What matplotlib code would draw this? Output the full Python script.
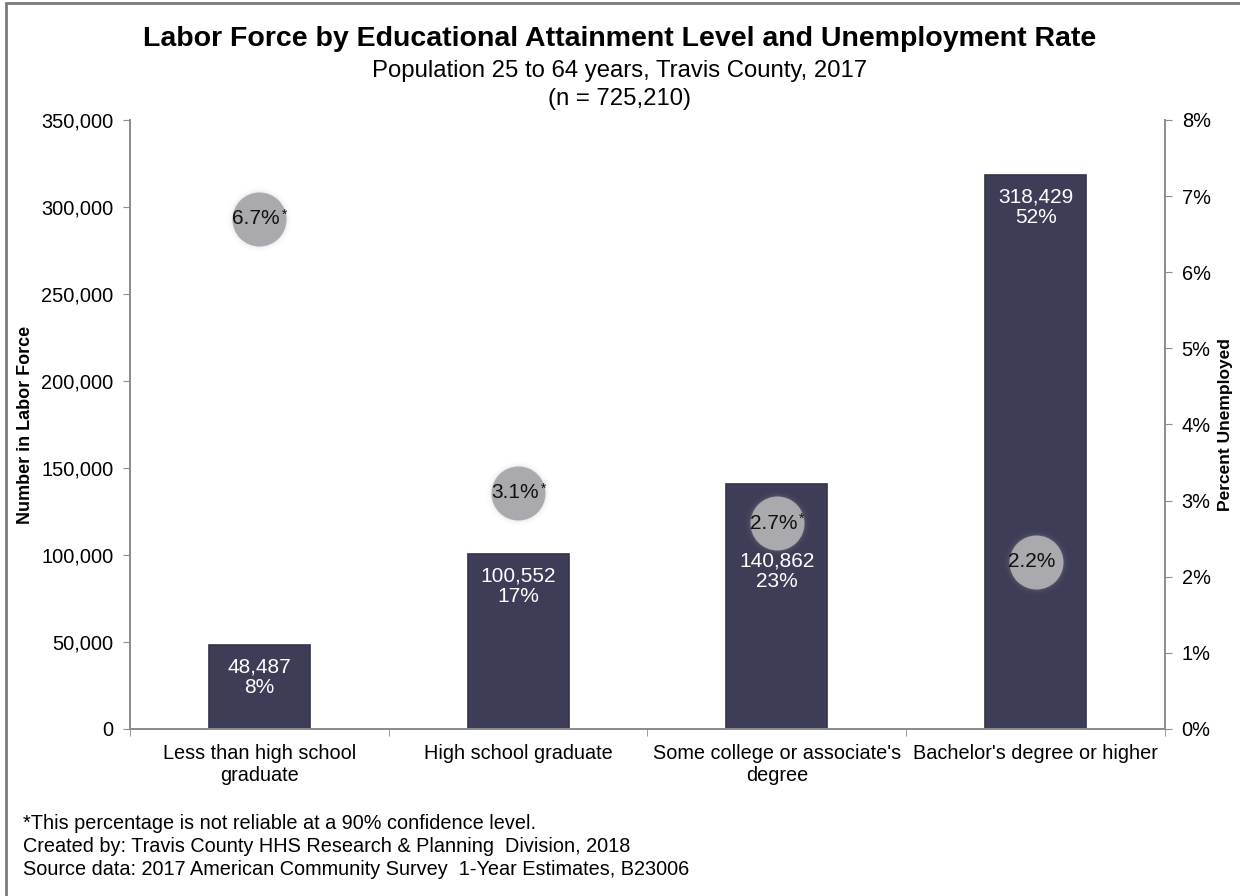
import matplotlib
matplotlib.use('Agg')
import matplotlib.pyplot as plt
from matplotlib.patches import Rectangle
from matplotlib.ticker import FuncFormatter, FixedLocator

plt.rcParams['font.family'] = ['Liberation Sans', 'DejaVu Sans']

categories = ['Less than high school\ngraduate', 'High school graduate',
              "Some college or associate's\ndegree", "Bachelor's degree or higher"]
labor_force = [48487, 100552, 140862, 318429]
share_labels = ['8%', '17%', '23%', '52%']
unemployment = [6.7, 3.1, 2.7, 2.2]
unreliable = [True, True, True, False]

bar_color = '#3e3d57'
bubble_color = '#aaaaae'
axis_grey = '#8c8c8c'
bubble_radius_px = 27

fig = plt.figure(figsize=(12.4, 8.96), dpi=100)
ax = fig.add_axes([0.1048, 0.1864, 0.8347, 0.6797])
ax2 = ax.twinx()

x = list(range(len(categories)))
ax.bar(x, labor_force, width=0.39, color=bar_color, edgecolor='#34334a', linewidth=1.2, zorder=2)

ax.set_xlim(-0.5, 3.5)
ax.set_ylim(0, 350000)
ax2.set_ylim(0, 8)
ax.set_yticks(range(0, 350001, 50000))
ax.yaxis.set_major_formatter(FuncFormatter(lambda v, p: f'{int(v):,}'))
ax2.set_yticks(range(0, 9))
ax2.yaxis.set_major_formatter(FuncFormatter(lambda v, p: f'{int(v)}%'))

ax.set_xticks(x)
ax.set_xticklabels(categories, fontsize=14.3, linespacing=1.15)
ax.xaxis.set_minor_locator(FixedLocator([-0.5, 0.5, 1.5, 2.5, 3.5]))
ax.tick_params(axis='x', which='major', length=0, pad=11)
ax.tick_params(axis='x', which='minor', length=5, color=axis_grey, direction='out')
ax.tick_params(axis='y', labelsize=14.4, length=5, color=axis_grey, pad=7)
ax2.tick_params(axis='y', labelsize=14.4, length=5, color=axis_grey, pad=7)

for a in (ax, ax2):
    a.spines['top'].set_visible(False)
    for s in ('left', 'right', 'bottom'):
        a.spines[s].set_color(axis_grey)
        a.spines[s].set_linewidth(1.3)

ax.set_ylabel('Number in Labor Force', fontsize=13, fontweight='bold', labelpad=5)
ax2.set_ylabel('Percent Unemployed', fontsize=12.5, fontweight='bold', labelpad=5)

# unemployment bubbles on the right-hand axis, with a soft halo
size = (bubble_radius_px * 2 * 72 / fig.dpi) ** 2
for k, alpha in [(1.4, 0.04), (1.2, 0.06), (1.08, 0.1)]:
    ax2.scatter(x, unemployment, s=size * k, color=bubble_color, alpha=alpha,
                linewidths=0, zorder=3)
ax2.scatter(x, unemployment, s=size, color=bubble_color, linewidths=0, zorder=4)

for i, rate in enumerate(unemployment):
    ax2.annotate(f'{rate:.1f}%', (i, rate), xytext=(-2.5, 0), textcoords='offset points',
                 ha='center', va='center', fontsize=15, color='#111111', zorder=5)
    if unreliable[i]:
        ax2.annotate('*', (i, rate), xytext=(18, 3), textcoords='offset points',
                     ha='center', va='center', fontsize=10, color='#111111', zorder=5)

# bar value labels, moved under the bubble when it sits at the top of a bar
radius_units = bubble_radius_px * 350000 / (ax.get_position().height * fig.bbox.height)
for i, (count, share) in enumerate(zip(labor_force, share_labels)):
    bubble_y = unemployment[i] / 8 * 350000
    text = f'{count:,}\n{share}'
    if bubble_y - radius_units < count and bubble_y + radius_units > count - 45000:
        ax2.annotate(text, (i, unemployment[i]), xytext=(0, -bubble_radius_px * 0.72 - 1),
                     textcoords='offset points', ha='center', va='top', fontsize=15,
                     color='white', linespacing=1.1, zorder=5)
    else:
        ax.annotate(text, (i, count), xytext=(0, -9), textcoords='offset points',
                    ha='center', va='top', fontsize=15, color='white',
                    linespacing=1.1, zorder=5)

fig.text(0.5, 0.957, 'Labor Force by Educational Attainment Level and Unemployment Rate',
         ha='center', va='center', fontsize=20.5, fontweight='bold')
fig.text(0.5, 0.921, 'Population 25 to 64 years, Travis County, 2017',
         ha='center', va='center', fontsize=17.2)
fig.text(0.5, 0.890, '(n = 725,210)', ha='center', va='center', fontsize=17.2)

notes = ['*This percentage is not reliable at a 90% confidence level.',
         'Created by: Travis County HHS Research & Planning  Division, 2018',
         'Source data: 2017 American Community Survey  1-Year Estimates, B23006']
for j, line in enumerate(notes):
    fig.text(0.0185, 0.081 - j * 0.0257, line, ha='left', va='center', fontsize=14.3)

fig.patches.append(Rectangle((0.005, -0.02), 1.1, 1.017, transform=fig.transFigure,
                             fill=False, edgecolor='#7a7a7a', linewidth=2))

fig.savefig('out.png', dpi=100)
